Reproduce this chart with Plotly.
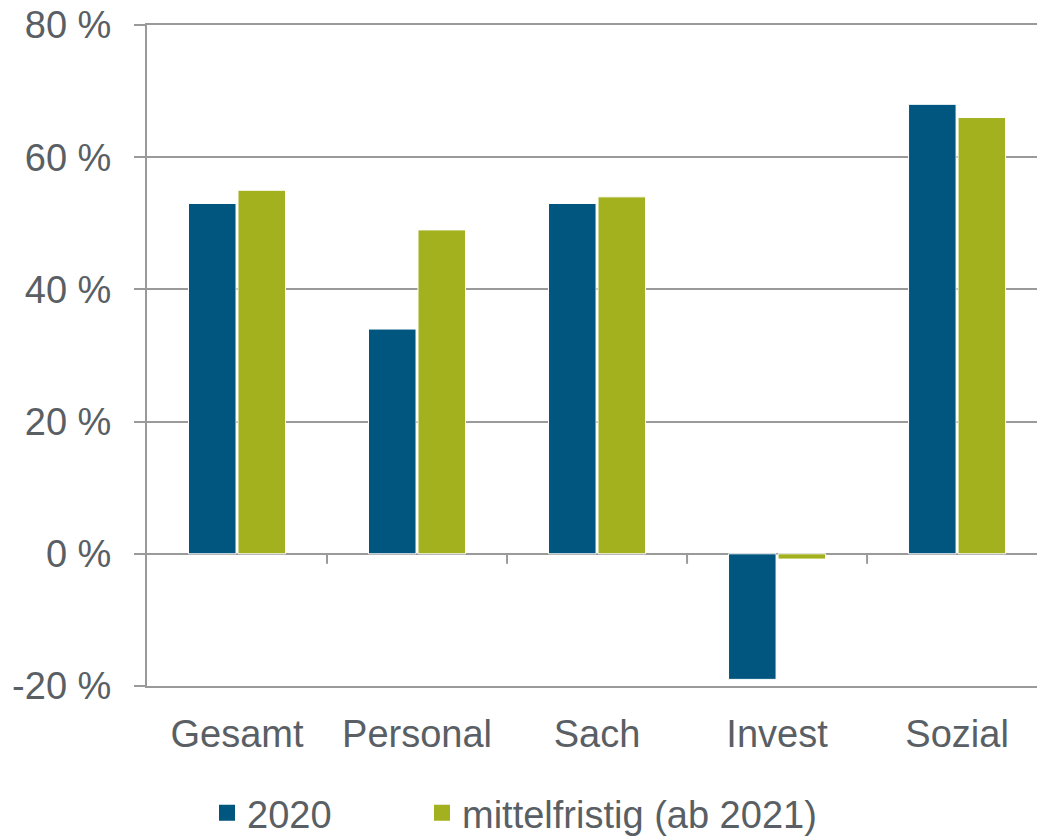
import plotly.graph_objects as go

categories = ["Gesamt", "Personal", "Sach", "Invest", "Sozial"]
series_2020 = [53, 34, 53, -19, 68]
series_mittel = [55, 49, 54, -0.8, 66]
y_ticks = [-20, 0, 20, 40, 60, 80]
y_tick_labels = ["-20 %", "0 %", "20 %", "40 %", "60 %", "80 %"]
names = ["2020", "mittelfristig (ab 2021)"]

BLUE = "#00567F"
GREEN = "#A2B11D"
GRID = "#9a9a9a"
TEXT = "#595F64"
FONT = "Liberation Sans, Arial, sans-serif"
FS = 38

W, H = 1037, 836

fig = go.Figure()
for vals, name, col in [(series_2020, names[0], BLUE), (series_mittel, names[1], GREEN)]:
    fig.add_trace(go.Bar(x=categories, y=vals, name=name, showlegend=False,
                         marker=dict(color=col, line=dict(color="white", width=1))))

# legend entries with larger square markers, in two separately placed legends
fig.add_trace(go.Scatter(x=[None], y=[None], mode="markers", name=names[0],
                         marker=dict(symbol="square", size=16, color=BLUE), legend="legend"))
fig.add_trace(go.Scatter(x=[None], y=[None], mode="markers", name=names[1],
                         marker=dict(symbol="square", size=16, color=GREEN), legend="legend2"))

# category separator ticks on the zero line
for i in range(len(categories) - 1):
    fig.add_shape(type="line", xref="x", yref="y", x0=i + 0.5, x1=i + 0.5,
                  ysizemode="pixel", yanchor=0, y0=0, y1=-10,
                  line=dict(color=GRID, width=2), layer="above")

leg_common = dict(orientation="h", xref="container", yref="container",
                  yanchor="middle", xanchor="left",
                  font=dict(size=FS, color=TEXT, family=FONT), itemsizing="trace",
                  bgcolor="rgba(0,0,0,0)")

fig.update_layout(
    width=W, height=H,
    margin=dict(l=147, r=0, t=25, b=150, autoexpand=False),
    paper_bgcolor="white", plot_bgcolor="white",
    barmode="group", bargap=0.45, bargroupgap=0.04,
    font=dict(family=FONT, size=FS, color=TEXT),
    showlegend=True,
    legend=dict(x=207 / W, y=1 - 813 / H, **leg_common),
    legend2=dict(x=422 / W, y=1 - 813 / H, **leg_common),
    xaxis=dict(range=[-0.5, 4.444], showgrid=False, zeroline=False,
               showline=True, mirror=True, linecolor=GRID, linewidth=2,
               ticks="outside", ticklen=13, tickcolor="rgba(0,0,0,0)", automargin=False,
               tickfont=dict(size=FS, color=TEXT, family=FONT), fixedrange=True),
    yaxis=dict(range=[-20, 80], tickvals=y_ticks, ticktext=y_tick_labels,
               showgrid=True, gridcolor=GRID, gridwidth=2, automargin=False,
               zeroline=True, zerolinecolor=GRID, zerolinewidth=2,
               showline=True, linecolor=GRID, linewidth=2,
               ticks="outside", ticklen=11, tickcolor=GRID, tickwidth=2,
               ticklabelstandoff=15, ticklabeloverflow="allow",
               tickfont=dict(size=FS, color=TEXT, family=FONT)),
)

fig.write_html("out.html", config={"displayModeBar": False},
               post_script="document.body.style.margin='0';document.body.style.overflow='hidden';")
